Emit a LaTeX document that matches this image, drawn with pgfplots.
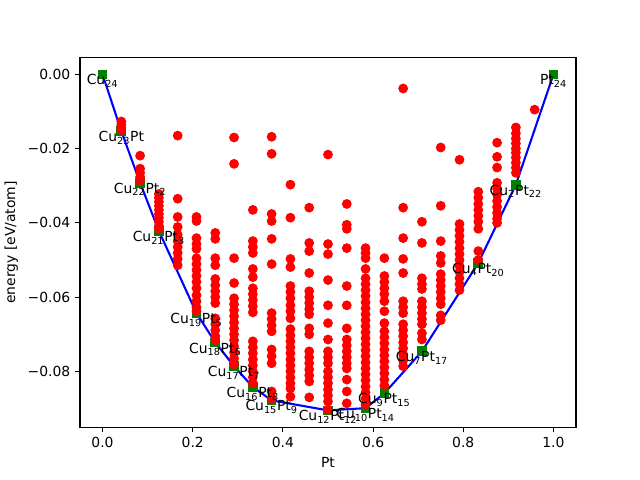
\documentclass[border=0pt]{standalone}
\usepackage{fontspec}
\setmainfont{DejaVu Sans}
\usepackage{pgfplots}
\pgfplotsset{compat=1.18}
\newcommand{\sub}[1]{\textsubscript{#1}}
\definecolor{mplred}{rgb}{1,0,0}
\definecolor{mplgreen}{rgb}{0,0.5,0}
\definecolor{mplblue}{rgb}{0,0,1}
\begin{document}
\begin{tikzpicture}
\begin{axis}[
  scale only axis,
  width=357.12pt, height=266.11pt,
  xmin=-0.05, xmax=1.05,
  ymin=-0.095025, ymax=0.004525,
  scaled ticks=false,
  axis line style={line width=0.8pt},
  tick align=outside,
  xtick pos=lower, ytick pos=left,
  major tick length=3.5pt,
  every tick/.style={line width=0.8pt, black},
  xtick={0,0.2,0.4,0.6,0.8,1.0},
  xticklabels={0.0,0.2,0.4,0.6,0.8,1.0},
  ytick={-0.08,-0.06,-0.04,-0.02,0},
  yticklabels={−0.08,−0.06,−0.04,−0.02,0.00},
  tick label style={font=\fontsize{10}{12}\selectfont},
  xlabel={Pt}, ylabel={energy [eV/atom]},
  label style={font=\fontsize{10}{12}\selectfont},
  clip=false,
]
% convex hull
\addplot[mplblue, line width=1.5pt, mark=none] coordinates {
 (0,0) (0.041667,-0.0153) (0.083333,-0.0292) (0.125,-0.0422)
 (0.208333,-0.0643) (0.25,-0.0722) (0.291667,-0.0786) (0.333333,-0.0842)
 (0.375,-0.0878) (0.5,-0.0905) (0.583333,-0.0899) (0.625,-0.0859)
 (0.708333,-0.0746) (0.833333,-0.0508) (0.916667,-0.0297) (1,0)
};
\addplot[only marks, mark=square*, mark size=3pt, mplgreen, mark options={draw=mplgreen, fill=mplgreen, line width=1pt}] coordinates {
 (0,0) (0.041667,-0.0153) (0.083333,-0.0292) (0.125,-0.0422)
 (0.208333,-0.0643) (0.25,-0.0722) (0.291667,-0.0786) (0.333333,-0.0842)
 (0.375,-0.0878) (0.5,-0.0905) (0.583333,-0.0899) (0.625,-0.0859)
 (0.708333,-0.0746) (0.833333,-0.0508) (0.916667,-0.0297) (1,0)
};
% all other structures
\addplot[only marks, mark=*, mark size=3pt, mplred, mark options={draw=mplred, fill=mplred, line width=1pt}] table {
x y
0.041667 -0.0127
0.041667 -0.0135
0.041667 -0.0143
0.041667 -0.0150
0.083333 -0.0219
0.083333 -0.0254
0.083333 -0.0265
0.083333 -0.0276
0.083333 -0.0286
0.125 -0.0322
0.125 -0.0332
0.125 -0.0343
0.125 -0.0354
0.125 -0.0365
0.125 -0.0376
0.125 -0.0386
0.125 -0.0397
0.125 -0.0408
0.125 -0.0416
0.166667 -0.0165
0.166667 -0.0335
0.166667 -0.0384
0.166667 -0.0411
0.166667 -0.0432
0.166667 -0.0449
0.166667 -0.0465
0.166667 -0.0481
0.166667 -0.0497
0.166667 -0.0514
0.208333 -0.0384
0.208333 -0.0395
0.208333 -0.0441
0.208333 -0.0457
0.208333 -0.0470
0.208333 -0.0495
0.208333 -0.0511
0.208333 -0.0527
0.208333 -0.0543
0.208333 -0.0559
0.208333 -0.0576
0.208333 -0.0595
0.208333 -0.0611
0.208333 -0.0627
0.208333 -0.0638
0.25 -0.0427
0.25 -0.0443
0.25 -0.0495
0.25 -0.0514
0.25 -0.0551
0.25 -0.0568
0.25 -0.0584
0.25 -0.0600
0.25 -0.0616
0.25 -0.0657
0.25 -0.0673
0.25 -0.0689
0.25 -0.0705
0.25 -0.0716
0.291667 -0.0170
0.291667 -0.0241
0.291667 -0.0495
0.291667 -0.0562
0.291667 -0.0603
0.291667 -0.0619
0.291667 -0.0635
0.291667 -0.0651
0.291667 -0.0668
0.291667 -0.0684
0.291667 -0.0700
0.291667 -0.0716
0.291667 -0.0732
0.291667 -0.0749
0.291667 -0.0765
0.291667 -0.0781
0.333333 -0.0365
0.333333 -0.0449
0.333333 -0.0465
0.333333 -0.0481
0.333333 -0.0524
0.333333 -0.0546
0.333333 -0.0576
0.333333 -0.0592
0.333333 -0.0608
0.333333 -0.0624
0.333333 -0.0641
0.333333 -0.0719
0.333333 -0.0735
0.333333 -0.0751
0.333333 -0.0768
0.333333 -0.0784
0.333333 -0.0800
0.333333 -0.0816
0.333333 -0.0832
0.375 -0.0168
0.375 -0.0214
0.375 -0.0376
0.375 -0.0395
0.375 -0.0443
0.375 -0.0511
0.375 -0.0643
0.375 -0.0659
0.375 -0.0676
0.375 -0.0692
0.375 -0.0741
0.375 -0.0759
0.375 -0.0778
0.375 -0.0854
0.375 -0.0873
0.416667 -0.0297
0.416667 -0.0386
0.416667 -0.0497
0.416667 -0.0519
0.416667 -0.0570
0.416667 -0.0586
0.416667 -0.0603
0.416667 -0.0622
0.416667 -0.0638
0.416667 -0.0657
0.416667 -0.0686
0.416667 -0.0703
0.416667 -0.0719
0.416667 -0.0735
0.416667 -0.0751
0.416667 -0.0768
0.416667 -0.0784
0.416667 -0.0800
0.416667 -0.0816
0.416667 -0.0832
0.416667 -0.0846
0.416667 -0.0868
0.458333 -0.0359
0.458333 -0.0454
0.458333 -0.0476
0.458333 -0.0535
0.458333 -0.0584
0.458333 -0.0600
0.458333 -0.0616
0.458333 -0.0632
0.458333 -0.0646
0.458333 -0.0684
0.458333 -0.0700
0.458333 -0.0746
0.458333 -0.0762
0.458333 -0.0778
0.458333 -0.0795
0.458333 -0.0811
0.458333 -0.0827
0.458333 -0.0870
0.5 -0.0216
0.5 -0.0457
0.5 -0.0484
0.5 -0.0554
0.5 -0.0622
0.5 -0.0670
0.5 -0.0714
0.5 -0.0746
0.5 -0.0762
0.5 -0.0778
0.5 -0.0800
0.5 -0.0816
0.5 -0.0832
0.5 -0.0849
0.5 -0.0865
0.5 -0.0881
0.5 -0.0903
0.541667 -0.0349
0.541667 -0.0405
0.541667 -0.0416
0.541667 -0.0468
0.541667 -0.0570
0.541667 -0.0622
0.541667 -0.0684
0.541667 -0.0714
0.541667 -0.0730
0.541667 -0.0746
0.541667 -0.0762
0.541667 -0.0778
0.541667 -0.0792
0.541667 -0.0822
0.541667 -0.0854
0.541667 -0.0886
0.583333 -0.0468
0.583333 -0.0481
0.583333 -0.0495
0.583333 -0.0524
0.583333 -0.0549
0.583333 -0.0565
0.583333 -0.0581
0.583333 -0.0597
0.583333 -0.0614
0.583333 -0.0630
0.583333 -0.0646
0.583333 -0.0662
0.583333 -0.0678
0.583333 -0.0695
0.583333 -0.0711
0.583333 -0.0727
0.583333 -0.0743
0.583333 -0.0759
0.583333 -0.0776
0.583333 -0.0792
0.583333 -0.0808
0.583333 -0.0824
0.583333 -0.0841
0.583333 -0.0857
0.583333 -0.0873
0.583333 -0.0889
0.625 -0.0495
0.625 -0.0543
0.625 -0.0559
0.625 -0.0576
0.625 -0.0592
0.625 -0.0611
0.625 -0.0638
0.625 -0.0670
0.625 -0.0692
0.625 -0.0708
0.625 -0.0724
0.625 -0.0741
0.625 -0.0757
0.625 -0.0773
0.625 -0.0789
0.625 -0.0805
0.625 -0.0822
0.625 -0.0838
0.666667 -0.0038
0.666667 -0.0359
0.666667 -0.0441
0.666667 -0.0497
0.666667 -0.0535
0.666667 -0.0611
0.666667 -0.0627
0.666667 -0.0643
0.666667 -0.0673
0.666667 -0.0689
0.666667 -0.0705
0.666667 -0.0722
0.666667 -0.0738
0.666667 -0.0754
0.666667 -0.0770
0.666667 -0.0786
0.708333 -0.0397
0.708333 -0.0454
0.708333 -0.0549
0.708333 -0.0565
0.708333 -0.0578
0.708333 -0.0611
0.708333 -0.0627
0.708333 -0.0643
0.708333 -0.0659
0.708333 -0.0673
0.708333 -0.0697
0.708333 -0.0714
0.75 -0.0197
0.75 -0.0354
0.75 -0.0449
0.75 -0.0489
0.75 -0.0508
0.75 -0.0538
0.75 -0.0554
0.75 -0.0570
0.75 -0.0586
0.75 -0.0603
0.75 -0.0619
0.75 -0.0649
0.75 -0.0662
0.791667 -0.0230
0.791667 -0.0403
0.791667 -0.0419
0.791667 -0.0435
0.791667 -0.0451
0.791667 -0.0468
0.791667 -0.0484
0.791667 -0.0500
0.791667 -0.0516
0.791667 -0.0532
0.791667 -0.0549
0.791667 -0.0565
0.791667 -0.0581
0.833333 -0.0316
0.833333 -0.0332
0.833333 -0.0349
0.833333 -0.0365
0.833333 -0.0381
0.833333 -0.0397
0.833333 -0.0416
0.833333 -0.0476
0.833333 -0.0500
0.875 -0.0184
0.875 -0.0222
0.875 -0.0251
0.875 -0.0292
0.875 -0.0308
0.875 -0.0324
0.875 -0.0341
0.875 -0.0357
0.875 -0.0373
0.875 -0.0389
0.875 -0.0400
0.916667 -0.0143
0.916667 -0.0159
0.916667 -0.0173
0.916667 -0.0186
0.916667 -0.0200
0.916667 -0.0211
0.916667 -0.0224
0.916667 -0.0238
0.916667 -0.0251
0.916667 -0.0265
0.958333 -0.0095
};
% formula labels below the hull points
\addplot[draw=none, mark=none, point meta=explicit symbolic,
  nodes near coords,
  every node near coord/.style={anchor=north, inner sep=0pt, font=\fontsize{10}{12}\selectfont, text=black}]
 coordinates {
 (0,0) [Cu\sub{24}]
 (0.041667,-0.0153) [Cu\sub{23}Pt]
 (0.083333,-0.0292) [Cu\sub{22}Pt\sub{2}]
 (0.125,-0.0422) [Cu\sub{21}Pt\sub{3}]
 (0.208333,-0.0643) [Cu\sub{19}Pt\sub{5}]
 (0.25,-0.0722) [Cu\sub{18}Pt\sub{6}]
 (0.291667,-0.0786) [Cu\sub{17}Pt\sub{7}]
 (0.333333,-0.0842) [Cu\sub{16}Pt\sub{8}]
 (0.375,-0.0878) [Cu\sub{15}Pt\sub{9}]
 (0.5,-0.0905) [Cu\sub{12}Pt\sub{12}]
 (0.583333,-0.0899) [Cu\sub{10}Pt\sub{14}]
 (0.625,-0.0859) [Cu\sub{9}Pt\sub{15}]
 (0.708333,-0.0746) [Cu\sub{7}Pt\sub{17}]
 (0.833333,-0.0508) [Cu\sub{4}Pt\sub{20}]
 (0.916667,-0.0297) [Cu\sub{2}Pt\sub{22}]
 (1,0) [Pt\sub{24}]
};
\end{axis}
\useasboundingbox (-57.6pt,-38.016pt) rectangle (403.2pt,307.58pt);
\end{tikzpicture}
\end{document}
